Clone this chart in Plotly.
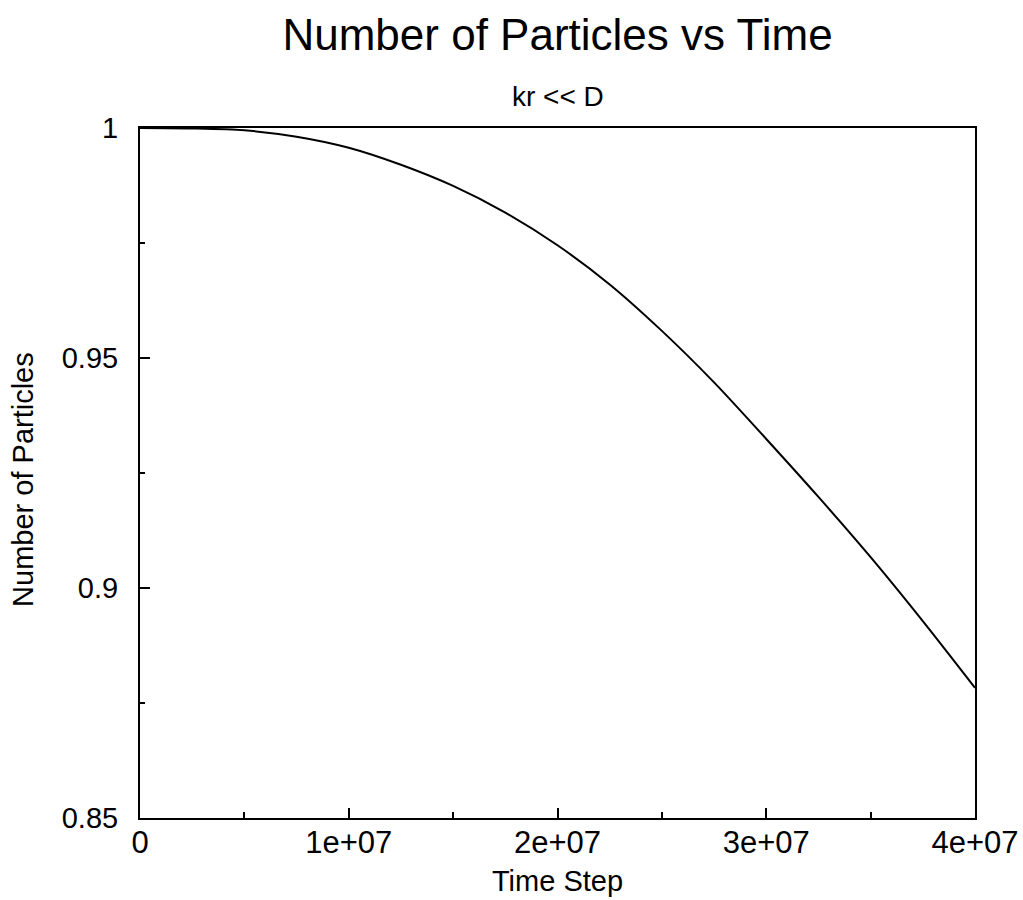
import plotly.graph_objects as go

time_step = [0, 2.5e6, 5e6, 7.5e6, 1e7, 1.25e7, 1.5e7, 1.75e7, 2e7, 2.25e7, 2.5e7,
             2.75e7, 3e7, 3.25e7, 3.5e7, 3.75e7, 4e7]
particles = [1.0, 0.9999, 0.9995, 0.9981, 0.9957, 0.9920, 0.9874, 0.9816, 0.9745,
             0.9660, 0.9559, 0.9447, 0.9324, 0.9198, 0.9067, 0.8928, 0.8783]

x_tick_vals = [0, 1e7, 2e7, 3e7, 4e7]
x_tick_text = ["0", "1e+07", "2e+07", "3e+07", "4e+07"]
y_tick_vals = [0.85, 0.9, 0.95, 1.0]
y_tick_text = ["0.85", "0.9", "0.95", "1"]

FONT = "Liberation Sans, Arial, Helvetica, sans-serif"

fig = go.Figure()
fig.add_trace(go.Scatter(x=time_step, y=particles, mode="lines",
                         line=dict(color="black", width=2, shape="spline", smoothing=0.8),
                         showlegend=False))

axis_common = dict(
    showgrid=False, zeroline=False, showline=True, linecolor="black", linewidth=2,
    mirror=True, ticks="inside", ticklen=10, tickwidth=1.5, tickcolor="black",
    automargin=False,
)

fig.update_layout(
    width=1023, height=900,
    margin=dict(l=140, r=48, t=128, b=82),
    paper_bgcolor="white", plot_bgcolor="white",
    title=dict(text="Number of Particles vs Time", x=0.545, xanchor="center",
               y=1 - 35 / 900, yanchor="middle",
               font=dict(family=FONT, size=44, color="black")),
    xaxis=dict(range=[0, 4e7], tickvals=x_tick_vals, ticktext=x_tick_text,
               tickfont=dict(family=FONT, size=31, color="black"),
               ticklabelstandoff=-4,
               minor=dict(ticks="inside", dtick=5e6, tick0=0, ticklen=6, tickcolor="black"),
               title=dict(text="Time Step", font=dict(family=FONT, size=29, color="black"),
                          standoff=11),
               **axis_common),
    yaxis=dict(range=[0.85, 1.0], tickvals=y_tick_vals, ticktext=y_tick_text,
               tickfont=dict(family=FONT, size=29, color="black"),
               ticklabelstandoff=14,
               minor=dict(ticks="inside", dtick=0.025, tick0=0.85, ticklen=5, tickcolor="black"),
               **axis_common),
    annotations=[
        dict(text="kr << D", xref="paper", yref="paper", x=0.5, y=(818 - 97) / 690,
             xanchor="center", yanchor="middle", showarrow=False,
             font=dict(family=FONT, size=28, color="black")),
        dict(text="Number of Particles", xref="paper", yref="paper", x=0, y=0.49,
             xanchor="center", yanchor="middle", xshift=-117, textangle=-90, showarrow=False,
             font=dict(family=FONT, size=29, color="black")),
    ],
)

fig.write_html("out.html")
